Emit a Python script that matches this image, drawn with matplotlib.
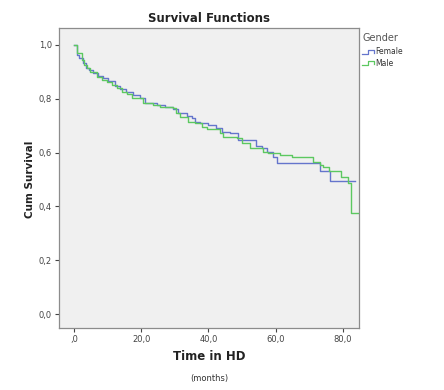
import matplotlib
matplotlib.use("Agg")
import matplotlib.pyplot as plt
from matplotlib.ticker import FuncFormatter

# Kaplan-Meier step points (time in months, cum survival)
female_t = [0, 1.0, 1.6, 2.8, 3.6, 4.6, 5.7, 7.2, 8.5, 10, 12.2, 13.7, 15.5, 17.5,
            19.6, 21.1, 24.6, 27.1, 29.5, 31, 33.5, 35, 36, 37.5, 40, 42.4, 43.9,
            46.4, 48.9, 54.1, 55.8, 57.3, 59.3, 60.3, 73.2, 76.1, 83.6]
female_s = [1.0, 0.963, 0.95, 0.932, 0.913, 0.907, 0.895, 0.886, 0.876, 0.865, 0.846,
            0.836, 0.826, 0.814, 0.802, 0.783, 0.777, 0.771, 0.762, 0.746, 0.737,
            0.727, 0.715, 0.709, 0.703, 0.690, 0.678, 0.672, 0.647, 0.626, 0.618,
            0.603, 0.585, 0.56, 0.532, 0.494, 0.494]

male_t = [0, 1.0, 2.3, 3.0, 3.8, 4.8, 6.7, 8.2, 9.7, 11.2, 12.7, 14.2, 15.7, 17.2,
          20.6, 23.6, 25.6, 29.5, 30.5, 31.5, 34, 36, 38, 39.5, 43.4, 44.4, 48.4,
          49.9, 52.3, 56.3, 57.8, 61.3, 65.0, 71.0, 73.2, 74.2, 76.0, 79.4, 81.4,
          82.4, 84.6]
male_s = [1.0, 0.969, 0.944, 0.926, 0.913, 0.898, 0.882, 0.870, 0.861, 0.851, 0.839,
          0.826, 0.817, 0.804, 0.783, 0.775, 0.771, 0.765, 0.746, 0.733, 0.715,
          0.709, 0.696, 0.687, 0.672, 0.659, 0.653, 0.634, 0.618, 0.603, 0.597,
          0.59, 0.585, 0.566, 0.554, 0.547, 0.532, 0.511, 0.487, 0.376, 0.376]

x_ticks = [0, 20, 40, 60, 80]
y_ticks = [0.0, 0.2, 0.4, 0.6, 0.8, 1.0]

blue = "#6575cc"
green = "#5cc860"

fig = plt.figure(figsize=(4.44, 3.90), dpi=100)
ax = fig.add_axes([59 / 444, 62 / 390, 300 / 444, 300 / 390])
ax.set_facecolor("#f0f0f0")

ax.step(female_t, female_s, where="post", color=blue, lw=1.0)
ax.step(male_t, male_s, where="post", color=green, lw=1.0)

ax.set_xlim(-4.46, 84.8)
ax.set_ylim(-0.052, 1.063)
ax.set_xticks(x_ticks)
ax.set_yticks(y_ticks)

# SPSS style decimal comma, zero printed as ",0" on the x axis
ax.xaxis.set_major_formatter(FuncFormatter(lambda v, p: ("%.1f" % v).replace(".", ",") if v else ",0"))
ax.yaxis.set_major_formatter(FuncFormatter(lambda v, p: ("%.1f" % v).replace(".", ",")))
ax.tick_params(labelsize=6, colors="#444444", length=3, width=0.8, pad=2)

for sp in ax.spines.values():
    sp.set_color("#8c8c8c")
    sp.set_linewidth(0.9)

fig.text(209 / 444, 1 - 18 / 390, "Survival Functions", ha="center", va="center",
         fontsize=8.5, fontweight="bold", color="#222222")
fig.text(30 / 444, 1 - 179 / 390, "Cum Survival", ha="center", va="center",
         rotation=90, fontsize=7.5, fontweight="bold", color="#222222")
fig.text(209 / 444, 1 - 356 / 390, "Time in HD", ha="center", va="center",
         fontsize=8.5, fontweight="bold", color="#222222")
fig.text(209 / 444, 1 - 378 / 390, "(months)", ha="center", va="center",
         fontsize=6, color="#333333")

# legend
fig.text(362 / 444, 1 - 38 / 390, "Gender", ha="left", va="center",
         fontsize=7, color="#555555")
for i, (lab, col) in enumerate([("Female", blue), ("Male", green)]):
    yc = 52 + i * 11
    xs = [362, 368, 368, 374, 374]
    ys = [yc + 2, yc + 2, yc - 2, yc - 2, yc + 1]
    fig.add_artist(plt.Line2D([x / 444 for x in xs], [1 - y / 390 for y in ys],
                              color=col, lw=0.9, transform=fig.transFigure))
    fig.text(375 / 444, 1 - yc / 390, lab, ha="left", va="center",
             fontsize=5.5, color="#333333")

fig.savefig("out.png", dpi=100, facecolor="white")
